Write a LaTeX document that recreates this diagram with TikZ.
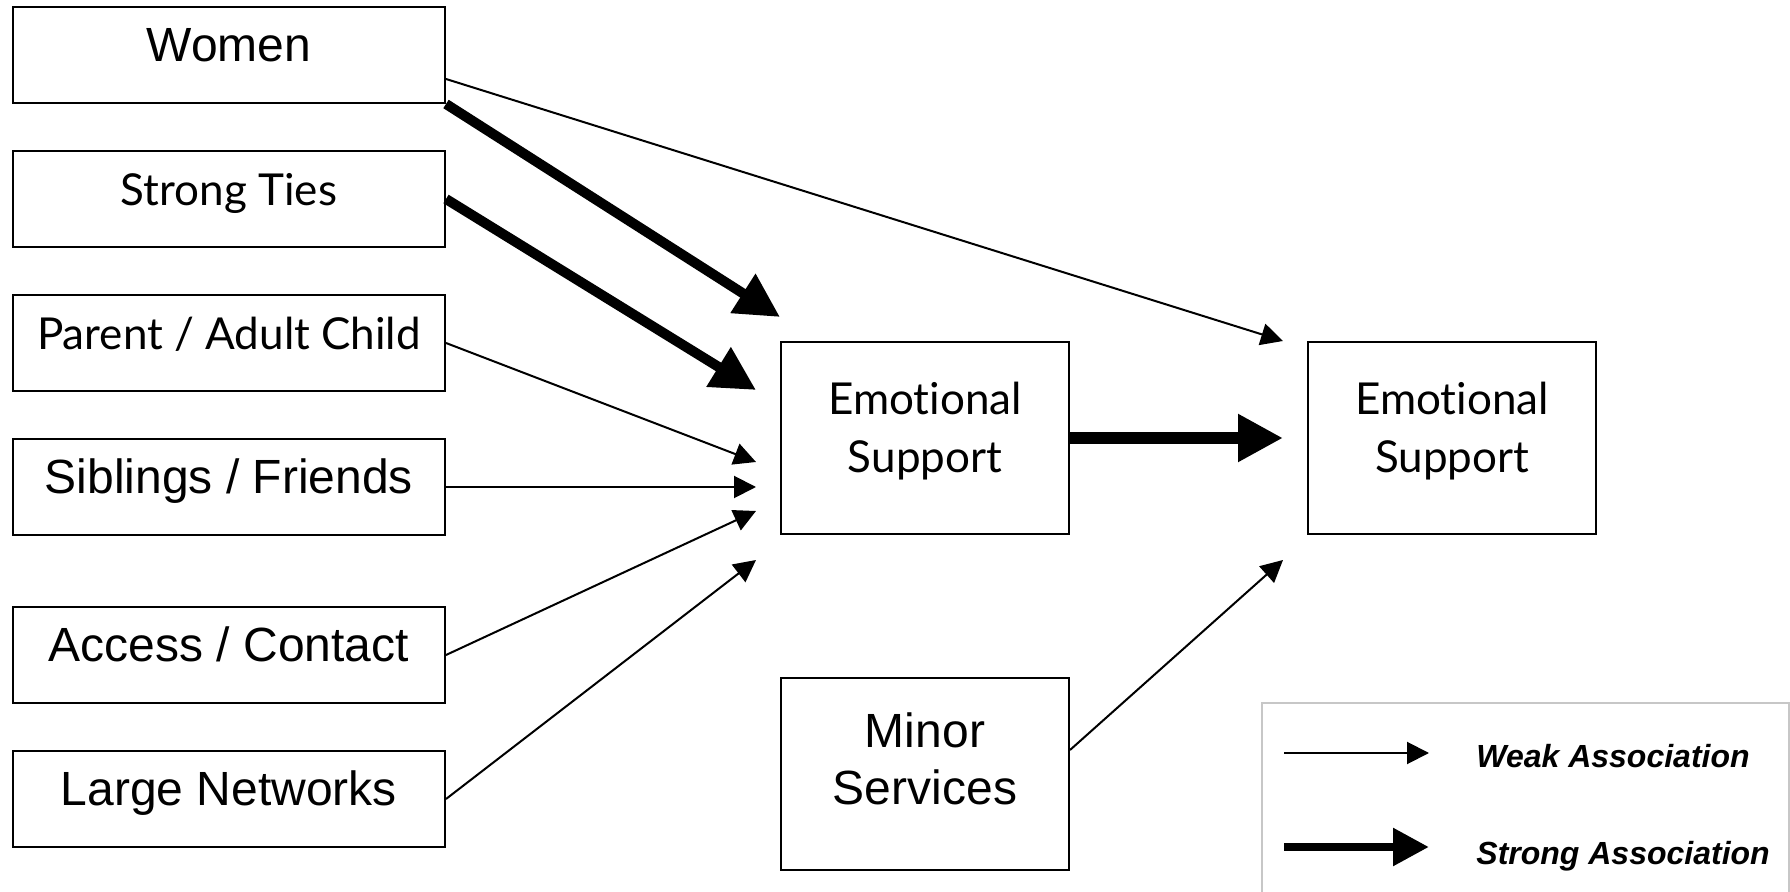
\documentclass[tikz,border=0pt]{standalone}
\usepackage{fontspec}
\setmainfont{Liberation Sans}
\newfontfamily\gillfont[Ligatures=NoCommon]{Lato}
\usetikzlibrary{arrows.meta, positioning}
\newcommand\liftby[1]{\rule[-#1]{0pt}{0pt}}
\tikzset{
    flow/.style={x=0.5pt, y=-0.5pt},
    flow box/.style={draw, line width=1pt, align=center, inner sep=0pt},
    left box/.style={flow box, minimum width=216pt, minimum height=48pt,
        text height=13pt, text depth=6pt},
    mid box/.style={flow box, minimum width=144pt, minimum height=96pt},
    arial text/.style={font=\fontsize{24}{28.5}\selectfont},
    gill text/.style={font=\gillfont\fontsize{22}{29}\selectfont},
    weak arrow/.style={-{Triangle[length=11pt, width=11pt]}, line width=1pt},
    strong arrow/.style={-{Triangle[length=22pt, width=22pt]}, line width=5pt},
    legend label/.style={font=\bfseries\itshape\fontsize{16}{20}\selectfont,
        anchor=base west, inner sep=0pt},
}

\begin{document}
\begin{tikzpicture}[flow, node distance=23pt]
    \useasboundingbox (0,0) rectangle (1790,892);

    % Predictors
    \node[left box, arial text] (women) at (229,55) {Women};
    \node[left box, gill text, below=of women] (strongties) {Strong Ties};
    \node[left box, gill text, below=of strongties] (parent) {Parent / Adult Child};
    \node[left box, arial text, below=of parent] (siblings) {Siblings / Friends};
    \node[left box, arial text, below=35pt of siblings] (access) {Access / Contact};
    \node[left box, arial text, below=of access] (networks) {Large Networks};

    % Outcomes
    \node[mid box, gill text] (support) at (925,438) {Emotional\\Support\liftby{10.5pt}};
    \node[mid box, gill text, right=118.5pt of support] (later) {Emotional\\Support\liftby{10.5pt}};
    \node[mid box, arial text, below=71pt of support] (services) {Minor\\Services\liftby{15pt}};
    \coordinate (inlet) at ([xshift=-12pt]support.west);

    % Arrows
    \draw[weak arrow] ([yshift=-12pt]women.east) -- ([xshift=-12pt]later.north west);
    \draw[strong arrow] (women.south east) -- ([yshift=12pt]support.north west);
    \draw[strong arrow] (strongties.east) -- ([xshift=-12pt, yshift=24pt]support.west);
    \draw[weak arrow] (parent.east) -- ([xshift=-12pt, yshift=-12pt]support.west);
    \draw[weak arrow] (siblings.east) -- (siblings.east -| inlet);
    \draw[weak arrow] (access.east) -- ([xshift=-12pt, yshift=-36.5pt]support.west);
    \draw[weak arrow] (networks.east) -- ([xshift=-12pt, yshift=-12.5pt]support.south west);
    \draw[strong arrow, -{Triangle[length=22.5pt, width=22.5pt]}, line width=6pt]
        (support.east) -- ([xshift=-12pt]later.west);
    \draw[weak arrow] ([yshift=12pt]services.east) -- ([xshift=-12pt, yshift=-12.5pt]later.south west);

    % Legend
    \draw[black!22, line width=1pt] (1262,703) rectangle (1789,900);
    \coordinate (weak start) at (1284,753);
    \coordinate (weak end) at (1429,753);
    \coordinate (strong start) at (1284,847);
    \coordinate (strong end) at (1429,847);
    \draw[weak arrow] (weak start) -- (weak end);
    \draw[strong arrow, -{Triangle[length=18pt, width=18pt]}, line width=4.3pt]
        (strong start) -- (strong end);
    \node[legend label] (weak label) at (1476,768) {Weak Association};
    \node[legend label] (strong label) at (1476,864) {Strong Association};

\end{tikzpicture}
\end{document}
